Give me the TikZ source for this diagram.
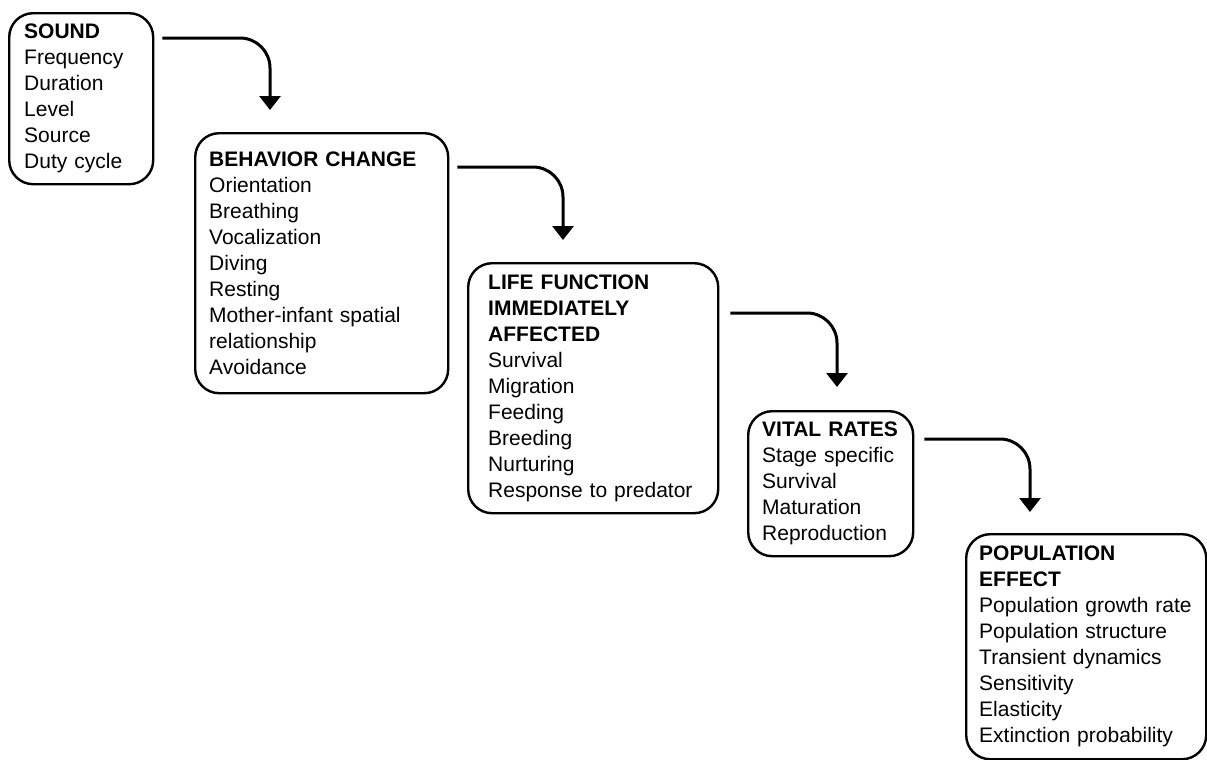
\documentclass[tikz,border=0pt]{standalone}
\usepackage{fontspec}
\setmainfont{Liberation Sans}
\usetikzlibrary{arrows.meta, calc}

\tikzset{
  stagebox/.style={draw, line width=1.2pt, rounded corners=12pt, anchor=north west,
    align=left, inner ysep=0pt, font=\fontsize{10.5}{13}\selectfont},
  flow/.style={line width=1.5pt, rounded corners=15pt, -{Triangle[width=10.5pt,length=7pt]}}
}

\begin{document}
\begin{tikzpicture}[x=0.5pt,y=-0.5pt]
        \useasboundingbox (0,0) rectangle (1207,760);

        \node[stagebox, text width=57pt, inner xsep=7.5pt, minimum height=85.5pt] (sound) at (8,12)
            {\textbf{SOUND}\\Frequency\\Duration\\Level\\Source\\Duty cycle};
        \node[stagebox, text width=112.5pt, inner xsep=7pt, minimum height=130pt] (behavior) at (194,132)
            {\textbf{BEHAVIOR CHANGE}\\Orientation\\Breathing\\Vocalization\\Diving\\Resting\\Mother-infant spatial\\relationship\\Avoidance};
        \node[stagebox, text width=105pt, inner xsep=10pt, minimum height=125pt] (life) at (467,262)
            {\textbf{LIFE FUNCTION}\\\textbf{IMMEDIATELY}\\\textbf{AFFECTED}\\Survival\\Migration\\Feeding\\Breeding\\Nurturing\\Response to predator};
        \node[stagebox, text width=68.5pt, inner xsep=7pt, minimum height=72.5pt] (vital) at (747,410)
            {\textbf{VITAL RATES}\\Stage specific\\Survival\\Maturation\\Reproduction};
        \node[stagebox, text width=107pt, inner xsep=6.5pt, minimum height=112.5pt] (population) at (965,533)
            {\textbf{POPULATION}\\\textbf{EFFECT}\\Population growth rate\\Population structure\\Transient dynamics\\Sensitivity\\Elasticity\\Extinction probability};

        \draw[flow] ($(sound.north east)+(8,26)$) -| ($(behavior.north west)+(76,-22)$);
        \draw[flow] ($(behavior.north east)+(8,35)$) -| ($(life.north west)+(96,-22)$);
        \draw[flow] ($(life.north east)+(11,51)$) -| ($(vital.north west)+(90,-23)$);
        \draw[flow] ($(vital.north east)+(10,29)$) -| ($(population.north west)+(65,-21)$);

\end{tikzpicture}
\end{document}
